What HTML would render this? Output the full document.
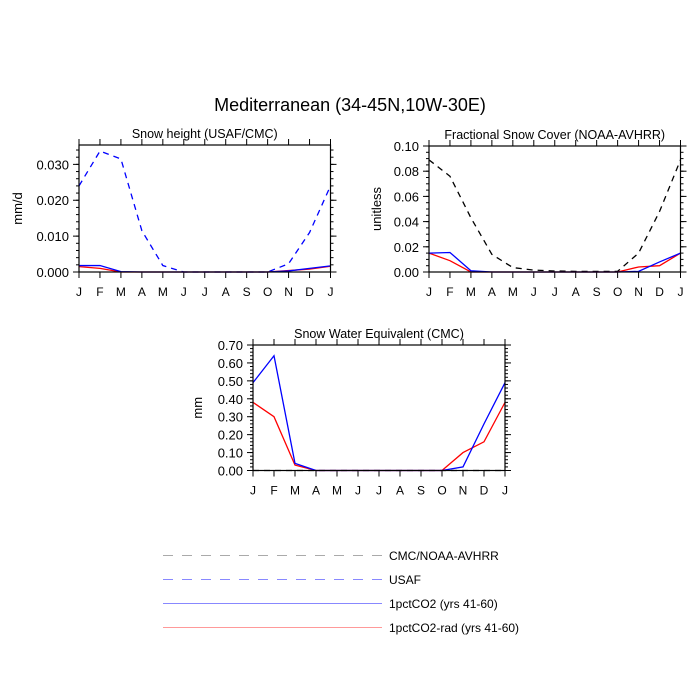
<!DOCTYPE html>
<html><head><meta charset="utf-8"><style>
body{margin:0;background:#fff;}
svg{display:block;font-family:"Liberation Sans",sans-serif;}
</style></head><body>
<svg id="c" width="700" height="700" viewBox="0 0 700 700">
<text x="350" y="111" font-size="18" text-anchor="middle">Mediterranean (34-45N,10W-30E)</text>
<g>
<line x1="163" y1="555.5" x2="382" y2="555.5" stroke="#aaa" stroke-width="1" stroke-dasharray="10,9"/>
<text x="389" y="560" font-size="12">CMC/NOAA-AVHRR</text>
<line x1="163" y1="579.5" x2="382" y2="579.5" stroke="#8888ff" stroke-width="1" stroke-dasharray="10,9"/>
<text x="389" y="584" font-size="12">USAF</text>
<line x1="163" y1="603.5" x2="382" y2="603.5" stroke="#8888ff" stroke-width="1"/>
<text x="389" y="608" font-size="12">1pctCO2 (yrs 41-60)</text>
<line x1="163" y1="627.5" x2="382" y2="627.5" stroke="#ff9999" stroke-width="1"/>
<text x="389" y="632" font-size="12">1pctCO2-rad (yrs 41-60)</text>
</g>
</svg>
<script>
const months = ["J","F","M","A","M","J","J","A","S","O","N","D","J"];
// Panel 1: Snow height
const p1Obs = [0.024,0.0337,0.0315,0.0115,0.0018,0,0,0,0,0,0.0023,0.011,0.024];
const p1Blue = [0.0018,0.0018,0.0001,0,0,0,0,0,0,0,0.0003,0.001,0.0017];
const p1Red = [0.0015,0.001,0,0,0,0,0,0,0,0,0.0004,0.0008,0.0016];
const p1Ticks = ["0.000","0.010","0.020","0.030"];
// Panel 2: Fractional snow cover
const p2Obs = [0.089,0.076,0.043,0.014,0.0035,0.0015,0.0008,0.0005,0.0005,0.0005,0.015,0.048,0.089];
const p2Blue = [0.015,0.0155,0.001,0,0,0,0,0,0,0,0.0005,0.008,0.015];
const p2Red = [0.015,0.009,0,0,0,0,0,0,0,0,0.004,0.005,0.015];
const p2Ticks = ["0.00","0.02","0.04","0.06","0.08","0.10"];
// Panel 3: SWE
const p3Obs = [0,0,0,0,0,0,0,0,0,0,0,0,0];
const p3Blue = [0.49,0.64,0.04,0,0,0,0,0,0,0,0.02,0.26,0.49];
const p3Red = [0.38,0.30,0.03,0,0,0,0,0,0,0,0.10,0.16,0.38];
const p3Ticks = ["0.00","0.10","0.20","0.30","0.40","0.50","0.60","0.70"];

const NS="http://www.w3.org/2000/svg";
const svg=document.getElementById('c');
function mk(tag,attrs,parent){const e=document.createElementNS(NS,tag);for(const k in attrs)e.setAttribute(k,attrs[k]);(parent||svg).appendChild(e);return e;}

function panel(cfg){
  const g=mk('g',{});
  
  
  const {x0,x1,y0,y1,ymax,minor}=cfg;
  const X=i=>x0+(x1-x0)*i/(months.length-1);
  const Y=v=>y0-(y0-y1)*v/ymax;
  // minor y ticks
  for(let v=0;v<=ymax+1e-9;v+=minor){
    const y=Y(v);
    mk('line',{x1:x0-3,y1:y,x2:x0,y2:y,stroke:'#000','stroke-width':1},g);
    mk('line',{x1:x1,y1:y,x2:x1+3,y2:y,stroke:'#000','stroke-width':1},g);
  }
  cfg.ticks.forEach(t=>{
    const y=Y(parseFloat(t));
    mk('line',{x1:x0-6,y1:y,x2:x0,y2:y,stroke:'#000','stroke-width':1},g);
    mk('line',{x1:x1,y1:y,x2:x1+6,y2:y,stroke:'#000','stroke-width':1},g);
    const tx=mk('text',{x:x0-10,y:y+5,'font-size':13,'text-anchor':'end'},g);
    
    
    tx.textContent=t;
  });
  months.forEach((m,i)=>{
    const x=X(i);
    mk('line',{x1:x,y1:y0,x2:x,y2:y0+6,stroke:'#000','stroke-width':1},g);
    mk('line',{x1:x,y1:y1-6,x2:x,y2:y1,stroke:'#000','stroke-width':1},g);
    const tx=mk('text',{x:x,y:y0+24,'font-size':12,'text-anchor':'middle'},g);
    
    
    tx.textContent=m;
  });
  const series=[[cfg.obs,cfg.obsColor,'6,5','obs-line'],[cfg.red,'#ff0000',null,'1pctco2-rad-line'],[cfg.blue,'#0000ff',null,'1pctco2-line']];
  series.forEach(([d,c,dash,nm])=>{
    const p=mk('polyline',{points:d.map((v,i)=>X(i)+','+Y(v)).join(' '),fill:'none',stroke:c,'stroke-width':1.3},g);
    if(dash)p.setAttribute('stroke-dasharray',dash);
    
    
  });
  const r=mk('rect',{x:x0,y:y1,width:x1-x0,height:y0-y1,fill:'none',stroke:'#000','stroke-width':1.2},g);
  
  
  const t=mk('text',{x:(x0+x1)/2,y:y1-7,'font-size':12.5,'text-anchor':'middle'},g);
  
  
  t.textContent=cfg.title;
  const yl=mk('text',{x:0,y:0,'font-size':13,'text-anchor':'middle',transform:`translate(${cfg.ylx},${(y0+y1)/2}) rotate(-90)`},g);
  
  
  yl.textContent=cfg.ylabel;
}
panel({name:'snow-height-panel',x0:79,x1:330.5,y0:272,y1:145,ymax:0.0354,minor:0.002,ticks:p1Ticks,obs:p1Obs,blue:p1Blue,red:p1Red,obsColor:'#0000ff',title:'Snow height (USAF/CMC)',ylabel:'mm/d',ylx:22});
panel({name:'snow-cover-panel',x0:429,x1:680.5,y0:272,y1:146,ymax:0.10,minor:0.005,ticks:p2Ticks,obs:p2Obs,blue:p2Blue,red:p2Red,obsColor:'#000000',title:'Fractional Snow Cover (NOAA-AVHRR)',ylabel:'unitless',ylx:381});
panel({name:'swe-panel',x0:253,x1:505,y0:470.5,y1:345,ymax:0.70,minor:0.02,ticks:p3Ticks,obs:p3Obs,blue:p3Blue,red:p3Red,obsColor:'#000000',title:'Snow Water Equivalent (CMC)',ylabel:'mm',ylx:202});
</script>
</body></html>
